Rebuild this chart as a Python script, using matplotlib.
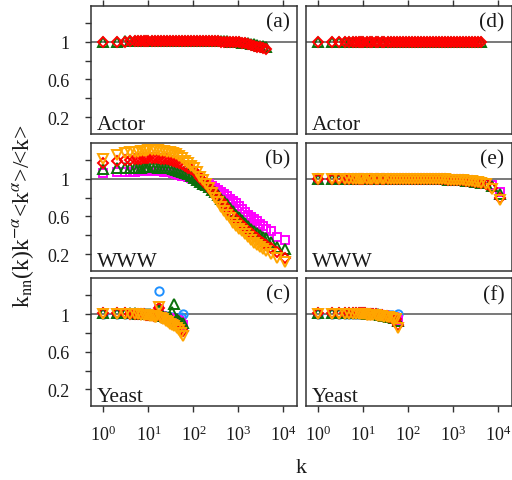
import matplotlib
matplotlib.use("Agg")
import matplotlib.pyplot as plt
from matplotlib.ticker import FixedLocator, NullLocator, LogLocator, LogFormatterMathtext

plt.rcParams["font.family"] = ["Liberation Serif", "DejaVu Serif"]
plt.rcParams["mathtext.fontset"] = "stix"

# ---------------- data ----------------
k_actor = [1, 2, 3, 4, 5, 6, 7, 8, 9, 10, 12, 14, 16, 19, 22, 26, 30, 35, 41, 48,
           56, 65, 76, 89, 104, 121, 141, 165, 192, 224, 261, 305, 356, 415, 484,
           565, 659, 769, 897, 1047, 1221, 1425, 1662, 1939, 2262, 2639, 3079,
           3592, 4190]

actor_a_green = [1.00, 1.00, 1.01, 1.01, 1.01, 1.01, 1.01, 1.01, 1.01, 1.01,
                 1.01, 1.01, 1.01, 1.01, 1.01, 1.01, 1.01, 1.01, 1.01, 1.01,
                 1.01, 1.01, 1.01, 1.01, 1.01, 1.01, 1.01, 1.01, 1.01, 1.01,
                 1.01, 1.01, 1.01, 1.01, 1.01, 1.01, 1.00, 1.00, 1.00, 1.00,
                 0.99, 0.99, 0.99, 0.98, 0.98, 0.97, 0.96, 0.96, 0.95]
actor_a_red = [1.00, 1.00, 1.00, 1.01, 1.01, 1.01, 1.01, 1.01, 1.01, 1.01,
               1.01, 1.01, 1.01, 1.01, 1.01, 1.01, 1.01, 1.01, 1.01, 1.01,
               1.01, 1.01, 1.01, 1.01, 1.01, 1.01, 1.01, 1.01, 1.01, 1.01,
               1.01, 1.01, 1.01, 1.00, 1.00, 1.00, 1.00, 1.00, 1.00, 1.00,
               0.99, 0.99, 0.98, 0.97, 0.96, 0.95, 0.94, 0.93, 0.92]
actor_d_green = [1.00] * 49
actor_d_red = [1.00] * 49

k_www = [1, 2, 3, 4, 5, 6, 7, 8, 9, 10, 12, 14, 16, 19, 22, 26, 30, 35, 41, 48,
         56, 65, 76, 89, 104, 121, 141, 165, 192, 224, 261, 305, 356, 415, 484,
         565, 659, 769, 897, 1047, 1221, 1425, 1662, 1939, 2262, 2639, 3079,
         3592, 4190, 5300, 7200, 11000]

www_b_magenta = [1.06, 1.07, 1.07, 1.07, 1.07, 1.08, 1.08, 1.08, 1.08, 1.08,
                 1.08, 1.08, 1.08, 1.08, 1.07, 1.07, 1.07, 1.06, 1.05, 1.04,
                 1.03, 1.03, 1.02, 1.01, 1.00, 0.99, 0.98, 0.97, 0.96, 0.94,
                 0.92, 0.90, 0.88, 0.86, 0.84, 0.82, 0.79, 0.76, 0.74, 0.71,
                 0.68, 0.65, 0.62, 0.59, 0.57, 0.55, 0.52, 0.50, 0.47, 0.44,
                 0.38, 0.35]
www_b_green = [1.10, 1.11, 1.11, 1.12, 1.12, 1.12, 1.12, 1.13, 1.13, 1.13,
               1.13, 1.13, 1.12, 1.12, 1.12, 1.11, 1.11, 1.10, 1.09, 1.08,
               1.07, 1.06, 1.05, 1.03, 1.01, 0.99, 0.97, 0.95, 0.93, 0.91,
               0.88, 0.86, 0.83, 0.79, 0.76, 0.73, 0.69, 0.66, 0.62, 0.59,
               0.56, 0.53, 0.50, 0.47, 0.45, 0.42, 0.40, 0.38, 0.37, 0.33,
               0.27, 0.25]
www_b_red = [1.17, 1.19, 1.20, 1.20, 1.21, 1.21, 1.21, 1.22, 1.22, 1.22,
             1.22, 1.22, 1.22, 1.21, 1.21, 1.21, 1.20, 1.19, 1.18, 1.17,
             1.16, 1.14, 1.12, 1.10, 1.08, 1.05, 1.01, 0.98, 0.95, 0.91,
             0.87, 0.84, 0.80, 0.76, 0.72, 0.68, 0.64, 0.60, 0.57, 0.54,
             0.51, 0.48, 0.45, 0.42, 0.39, 0.37, 0.34, 0.32, 0.30, 0.26,
             0.22, 0.16]
www_b_orange = [1.21, 1.25, 1.27, 1.28, 1.29, 1.29, 1.30, 1.30, 1.30, 1.31,
                1.31, 1.31, 1.31, 1.30, 1.30, 1.29, 1.28, 1.27, 1.26, 1.24,
                1.22, 1.19, 1.17, 1.14, 1.11, 1.07, 1.02, 0.99, 0.95, 0.90,
                0.85, 0.80, 0.75, 0.70, 0.66, 0.62, 0.58, 0.53, 0.50, 0.47,
                0.44, 0.41, 0.38, 0.35, 0.32, 0.30, 0.27, 0.25, 0.23, 0.20,
                0.16, 0.12]

www_e_flat = [1.00] * 36 + [1.00, 0.99, 0.99, 0.99, 0.99, 0.99, 0.99, 0.98,
                            0.98, 0.98, 0.97, 0.97, 0.96]
www_e_magenta = www_e_flat + [0.96, 0.93, 0.86]
www_e_green = www_e_flat + [0.96, 0.92, 0.84]
www_e_red = www_e_flat + [0.95, 0.90, 0.80]
www_e_orange = www_e_flat + [0.95, 0.89, 0.78]

k_yeast = [1, 2, 3, 4, 5, 6, 7, 8, 9, 10, 11, 12, 13, 14, 15, 17, 19, 21, 24,
           27, 30, 34, 38, 43, 48, 54, 60]

yeast_c_blue = [1.00, 1.00, 1.00, 1.00, 1.00, 1.00, 1.00, 1.00, 1.00, 1.00,
                0.99, 0.99, 0.99, 0.99, 0.99, 1.25, 0.99, 0.98, 0.98, 0.97,
                0.97, 0.97, 0.96, 0.96, 0.96, 0.97, 1.00]
yeast_c_magenta = [1.00, 1.00, 1.00, 1.00, 1.00, 1.00, 1.00, 1.00, 1.00, 0.99,
                   0.99, 0.99, 0.99, 0.99, 0.98, 1.05, 0.98, 0.97, 0.97, 0.96,
                   0.96, 0.95, 0.95, 0.94, 0.93, 0.91, 0.88]
yeast_c_green = [1.01, 1.01, 1.01, 1.01, 1.01, 1.00, 1.00, 1.00, 1.00, 1.00,
                 1.00, 0.99, 0.99, 0.99, 0.99, 1.04, 0.99, 0.98, 0.97, 0.96,
                 0.97, 1.02, 1.11, 0.95, 0.93, 0.91, 0.91]
yeast_c_red = [1.01, 1.01, 1.01, 1.00, 1.00, 1.00, 1.00, 1.00, 0.99, 0.99,
               0.99, 0.99, 0.98, 0.98, 0.98, 1.06, 0.97, 0.96, 0.95, 0.94,
               0.92, 0.91, 0.89, 0.88, 0.86, 0.84, 0.82]
yeast_c_orange = [1.00, 1.00, 1.00, 1.00, 1.00, 1.00, 0.99, 0.99, 0.99, 0.99,
                  0.98, 0.98, 0.98, 0.97, 0.97, 1.08, 0.96, 0.95, 0.93, 0.92,
                  0.90, 0.88, 0.87, 0.85, 0.83, 0.80, 0.77]

yeast_f_blue = [1.00] * 17 + [1.00, 1.00, 0.99, 0.99, 0.99, 0.99, 0.99, 0.98,
                              0.98, 1.00]
yeast_f_magenta = [1.00] * 17 + [1.00, 0.99, 0.99, 0.99, 0.98, 0.98, 0.97,
                                 0.97, 0.96, 0.94]
yeast_f_green = [1.01] * 11 + [1.00] * 6 + [1.00, 0.99, 0.99, 0.98, 0.98, 0.97,
                                             0.97, 0.96, 0.96, 0.93]
yeast_f_red = [1.01] * 11 + [1.00] * 6 + [0.99, 0.99, 0.99, 0.98, 0.98, 0.97,
                                           0.96, 0.96, 0.95, 0.88]
yeast_f_orange = [1.00] * 11 + [0.99] * 6 + [0.98, 0.98, 0.98, 0.97, 0.97,
                                             0.97, 0.96, 0.95, 0.95, 0.85]

# ---------------- styling ----------------
styles = {
    "blue": dict(marker="o", color="#1E90FF"),
    "magenta": dict(marker="s", color="#FF00FF"),
    "green": dict(marker="^", color="#0B700B"),
    "red": dict(marker="D", color="#FF0000"),
    "orange": dict(marker="v", color="#FFA500"),
}
marker_sizes = {"o": 6.0, "s": 6.0, "^": 7.0, "D": 5.5, "v": 7.0}

panels = [
    # (row, col, letter, name, k, series)
    (0, 0, "(a)", "Actor", k_actor, [("green", actor_a_green), ("red", actor_a_red)]),
    (0, 1, "(d)", "Actor", k_actor, [("green", actor_d_green), ("red", actor_d_red)]),
    (1, 0, "(b)", "WWW", k_www, [("magenta", www_b_magenta), ("green", www_b_green),
                                 ("red", www_b_red), ("orange", www_b_orange)]),
    (1, 1, "(e)", "WWW", k_www, [("magenta", www_e_magenta), ("green", www_e_green),
                                 ("red", www_e_red), ("orange", www_e_orange)]),
    (2, 0, "(c)", "Yeast", k_yeast, [("blue", yeast_c_blue), ("magenta", yeast_c_magenta),
                                     ("green", yeast_c_green), ("red", yeast_c_red),
                                     ("orange", yeast_c_orange)]),
    (2, 1, "(f)", "Yeast", k_yeast, [("blue", yeast_f_blue), ("magenta", yeast_f_magenta),
                                     ("green", yeast_f_green), ("red", yeast_f_red),
                                     ("orange", yeast_f_orange)]),
]

fig = plt.figure(figsize=(5.12, 4.81), dpi=100)
col_x = [0.1777, 0.5969]
col_w = 0.4023
row_y = [0.7193, 0.4345, 0.1532]
row_h = 0.266
spine_col = "#333333"
text_col = "#1a1a1a"

for row, col, letter, name, k, series in panels:
    ax = fig.add_axes([col_x[col], row_y[row], col_w, row_h])
    ax.set_xscale("log")
    ax.set_xlim(0.53, 2.0e4)
    ax.set_ylim(0.02, 1.38)
    ax.axhline(1.0, color="#555555", lw=1.1, zorder=1)
    for cname, vals in series:
        st = styles[cname]
        ax.plot(k, vals, linestyle="none", marker=st["marker"],
                markersize=marker_sizes[st["marker"]], markerfacecolor="none",
                markeredgecolor=st["color"], markeredgewidth=1.4, zorder=2)
    for sp in ax.spines.values():
        sp.set_color(spine_col)
        sp.set_linewidth(1.1)

    # x ticks
    ax.xaxis.set_major_locator(LogLocator(base=10, numticks=10))
    ax.xaxis.set_minor_locator(NullLocator())
    ax.xaxis.set_major_formatter(LogFormatterMathtext())
    if row == 0:
        ax.tick_params(axis="x", which="both", bottom=False, top=True,
                       labelbottom=False, labeltop=False, direction="out",
                       length=4.5, width=1.0, color=spine_col)
    elif row == 2:
        ax.tick_params(axis="x", which="both", bottom=True, top=False,
                       labelbottom=True, direction="out", length=4.5,
                       width=1.0, color=spine_col, labelsize=13, pad=9,
                       labelcolor=text_col)
    else:
        ax.tick_params(axis="x", which="both", bottom=False, top=False,
                       labelbottom=False)

    # y ticks
    if col == 0:
        yt = [0.2, 0.4, 0.6, 0.8, 1.0, 1.2]
        ax.yaxis.set_major_locator(FixedLocator(yt))
        ax.set_yticklabels(["0.2", "", "0.6", "", "1", ""])
        ax.tick_params(axis="y", direction="out", length=4.5, width=1.0,
                       color=spine_col, labelsize=13, pad=11,
                       labelcolor=text_col)
    else:
        ax.yaxis.set_major_locator(NullLocator())
    ax.yaxis.set_minor_locator(NullLocator())

    ax.text(0.966, 0.875, letter, transform=ax.transAxes, ha="right",
            va="center", fontsize=15.5, color=text_col)
    ax.text(0.03, 0.04, name, transform=ax.transAxes, ha="left",
            va="baseline", fontsize=15.5, color=text_col)

fig.text(0.045, 0.55, r"k$_{\rm nn}$(k)k$^{-\alpha}$<k$^{\alpha}$>/<k>",
         rotation=90, ha="center", va="center", fontsize=17, color=text_col)
fig.text(0.589, 0.025, "k", ha="center", va="center", fontsize=16,
         color=text_col)

fig.savefig("out.png", dpi=100)
